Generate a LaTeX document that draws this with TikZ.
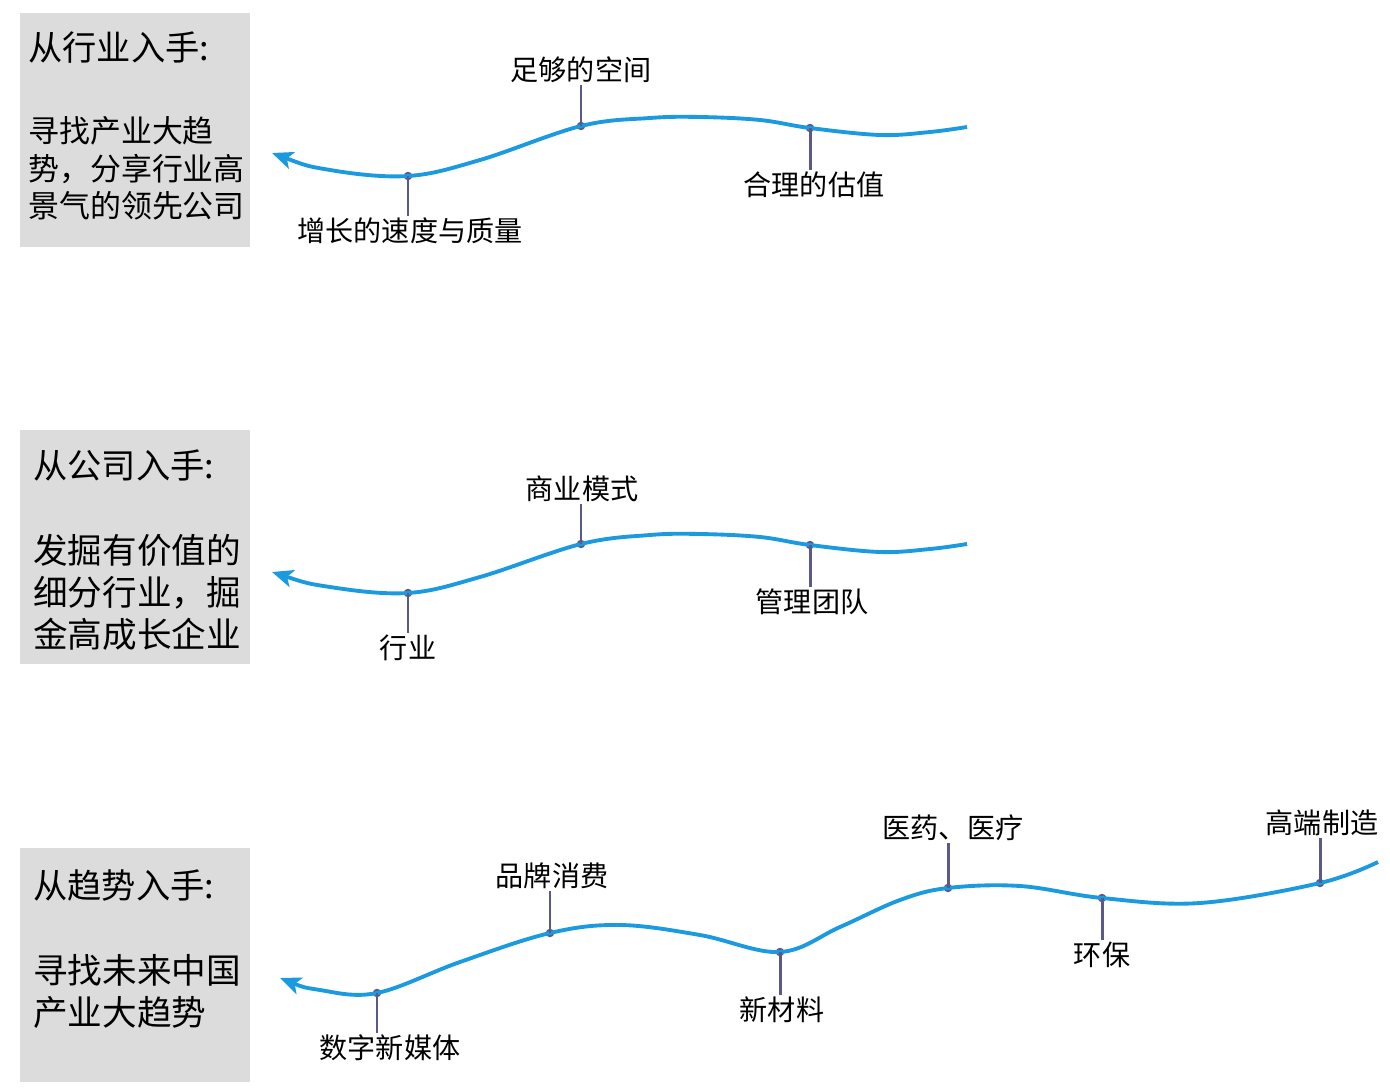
\documentclass[tikz,border=0pt]{standalone}
\usepackage{fontspec}
\setmainfont{Noto Sans CJK SC}
\usetikzlibrary{arrows.meta}

\definecolor{waveblue}{HTML}{1B9AE0}
\definecolor{stemgray}{HTML}{5A5A8A}
\definecolor{boxgray}{HTML}{DCDCDC}

\begin{document}
\begin{tikzpicture}[
    x=0.02cm, y=-0.02cm,
    panel/.style={fill=boxgray, draw=none, anchor=north west, inner sep=0pt, minimum width=4.6cm, minimum height=4.68cm},
    head/.style={anchor=west, inner sep=0pt, font=\fontsize{19.5}{22}\selectfont},
    body/.style={anchor=north west, inner sep=0pt, align=left},
    wave/.style={draw=waveblue, line width=2.2pt, {Stealth[length=12pt, width=10pt, inset=3pt]}-},
    dot/.style={circle, fill=stemgray, inner sep=0pt, minimum size=0.17cm},
    stem/.style={draw=stemgray, line width=1.7pt},
    tag/.style={inner sep=1pt, font=\fontsize{16}{18}\selectfont}
]
\useasboundingbox (0,0) rectangle (1390,1088);

% panel 1
\node[panel] (box1) at (20,13) {};
\node[head] (h1) at (28,48) {从行业入手:};
\node[body, font=\fontsize{17.6}{21.5}\selectfont] (t1) at (28,116) {寻找产业大趋\\势，分享行业高\\景气的领先公司};

\node[dot] (a1) at (408,176) {};
\node[dot] (a2) at (581,126) {};
\node[dot] (a3) at (810,128) {};
\draw[wave] plot[smooth, tension=0.6] coordinates {(272,153) (330,170) (a1.center) (480,160) (a2.center) (650,118) (700,117) (760,120) (a3.center) (880,135) (930,132) (967,127)};

\node[tag] (l1) at (410,231) {增长的速度与质量};
\node[tag] (l2) at (581,70) {足够的空间};
\node[tag] (l3) at (814,185) {合理的估值};
\draw[stem] (a1.center) -- (a1 |- l1.north);
\draw[stem] (a2.center) -- (a2 |- l2.south);
\draw[stem] (a3.center) -- (a3 |- l3.north);

% panel 2
\node[panel] (box2) at (20,430) {};
\node[head] (h2) at (33,465) {从公司入手:};
\node[body, font=\fontsize{19.7}{23.8}\selectfont] (t2) at (33,534) {发掘有价值的\\细分行业，掘\\金高成长企业};

\node[dot] (b1) at (408,593) {};
\node[dot] (b2) at (581,544) {};
\node[dot] (b3) at (810,545) {};
\draw[wave] plot[smooth, tension=0.6] coordinates {(272,572) (330,587) (b1.center) (480,577) (b2.center) (650,535) (700,534) (760,537) (b3.center) (880,552) (930,549) (967,544)};

\node[tag] (m1) at (408,648) {行业};
\node[tag] (m2) at (582,489) {商业模式};
\node[tag] (m3) at (812,602) {管理团队};
\draw[stem] (b1.center) -- (b1 |- m1.north);
\draw[stem] (b2.center) -- (b2 |- m2.south);
\draw[stem] (b3.center) -- (b3 |- m3.north);

% panel 3
\node[panel] (box3) at (20,848) {};
\node[head] (h3) at (33,885) {从趋势入手:};
\node[body, font=\fontsize{19.7}{23.8}\selectfont] (t3) at (33,954) {寻找未来中国\\产业大趋势};

\node[dot] (c1) at (377,993) {};
\node[dot] (c2) at (550,933) {};
\node[dot] (c3) at (780,952) {};
\node[dot] (c4) at (948,888) {};
\node[dot] (c5) at (1102,898) {};
\node[dot] (c6) at (1320,883) {};
\draw[wave] plot[smooth, tension=0.6] coordinates {(280,978) (320,990) (c1.center) (460,962) (c2.center) (620,925) (700,935) (c3.center) (840,927) (900,900) (c4.center) (1020,886) (c5.center) (1200,903) (c6.center) (1378,862)};

\node[tag] (n1) at (390,1048) {数字新媒体};
\node[tag] (n2) at (552,876) {品牌消费};
\node[tag] (n3) at (782,1010) {新材料};
\node[tag] (n4) at (953,828) {医药、医疗};
\node[tag] (n5) at (1102,955) {环保};
\node[tag] (n6) at (1322,823) {高端制造};
\draw[stem] (c1.center) -- (c1 |- n1.north);
\draw[stem] (c2.center) -- (c2 |- n2.south);
\draw[stem] (c3.center) -- (c3 |- n3.north);
\draw[stem] (c4.center) -- (c4 |- n4.south);
\draw[stem] (c5.center) -- (c5 |- n5.north);
\draw[stem] (c6.center) -- (c6 |- n6.south);
\end{tikzpicture}
\end{document}
